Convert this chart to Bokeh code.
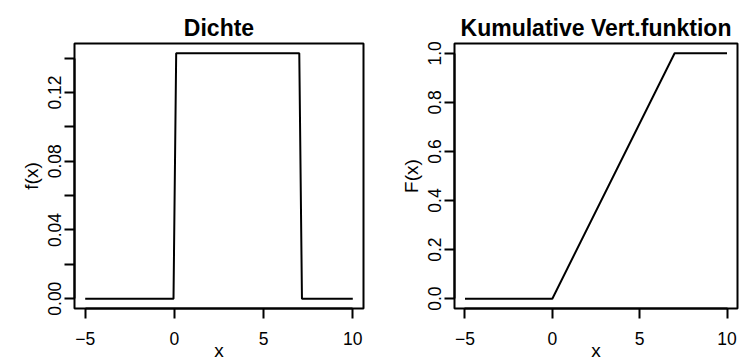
from bokeh.plotting import figure
from bokeh.layouts import row
from bokeh.models import FixedTicker, Range1d, CustomJSTickFormatter, NumeralTickFormatter
from bokeh.embed import file_html
from bokeh.resources import INLINE

# ---- data ----
dens_x = [-5, -0.05, 0.1, 7.0, 7.15, 10]
dens_y = [0, 0, 1 / 7, 1 / 7, 0, 0]
cdf_x = [-5, 0, 7, 10]
cdf_y = [0, 0, 1, 1]
x_ticks = [-5, 0, 5, 10]
dens_major = [0, 0.04, 0.08, 0.12]
dens_minor = [0.02, 0.06, 0.10, 0.14]
cdf_ticks = [0, 0.2, 0.4, 0.6, 0.8, 1.0]

FONT = "Liberation Sans"
TICK_FS = "17.5px"
LAB_FS = "19px"
LW = 2


def style(p, title):
    p.title.text = title
    p.title.text_font = FONT
    p.title.text_font_size = "23px"
    p.title.text_font_style = "bold"
    p.title.align = "center"
    p.title.text_color = "black"
    p.title.standoff = 6
    p.outline_line_color = "black"
    p.outline_line_width = LW
    p.xgrid.visible = False
    p.ygrid.visible = False
    p.background_fill_color = "white"
    p.border_fill_color = "white"
    for ax in (p.xaxis[0], p.yaxis[0]):
        ax.axis_line_color = "black"
        ax.axis_line_width = LW
        ax.major_tick_line_color = "black"
        ax.major_tick_line_width = LW
        ax.minor_tick_line_color = "black"
        ax.minor_tick_line_width = LW
        ax.major_tick_in = 0
        ax.major_tick_out = 10
        ax.minor_tick_in = 0
        ax.minor_tick_out = 10
        ax.major_label_text_font = FONT
        ax.major_label_text_font_size = TICK_FS
        ax.major_label_text_color = "black"
        ax.axis_label_text_font = FONT
        ax.axis_label_text_font_size = LAB_FS
        ax.axis_label_text_font_style = "normal"
        ax.axis_label_text_color = "black"
    xa = p.xaxis[0]
    xa.ticker = FixedTicker(ticks=x_ticks)
    xa.bounds = (-5, 10)
    xa.formatter = CustomJSTickFormatter(
        code='return tick < 0 ? "\\u2212" + Math.abs(tick) : tick.toString();')
    xa.major_label_standoff = 13
    xa.axis_label = "x"
    xa.axis_label_standoff = -8
    ya = p.yaxis[0]
    ya.major_label_orientation = "vertical"
    ya.major_label_standoff = 3
    ya.axis_label_standoff = 4


xr = (-5 - 0.04 * 15, 10 + 0.04 * 15)
dmax = 1 / 7

p1 = figure(width=375, height=363, output_backend="svg", toolbar_location=None,
            x_range=Range1d(*xr),
            y_range=Range1d(-0.04 * dmax, dmax * 1.04),
            min_border_left=74, min_border_right=12, min_border_top=43, min_border_bottom=54)
style(p1, "Dichte")
p1.line(dens_x, dens_y, line_color="black", line_width=LW)
p1.yaxis[0].ticker = FixedTicker(ticks=dens_major, minor_ticks=dens_minor)
p1.yaxis[0].formatter = NumeralTickFormatter(format="0.00")
p1.yaxis[0].bounds = (0, 0.14)
p1.yaxis[0].axis_label = "f(x)"

p2 = figure(width=370, height=363, output_backend="svg", toolbar_location=None,
            x_range=Range1d(*xr),
            y_range=Range1d(-0.04, 1.04),
            min_border_left=79, min_border_right=8, min_border_top=43, min_border_bottom=54)
style(p2, "Kumulative Vert.funktion")
p2.line(cdf_x, cdf_y, line_color="black", line_width=LW)
p2.yaxis[0].ticker = FixedTicker(ticks=cdf_ticks)
p2.yaxis[0].formatter = NumeralTickFormatter(format="0.0")
p2.yaxis[0].bounds = (0, 1)
p2.yaxis[0].axis_label = "F(x)"

layout = row(p1, p2, spacing=0)
open("out.html", "w").write(file_html(layout, INLINE))
